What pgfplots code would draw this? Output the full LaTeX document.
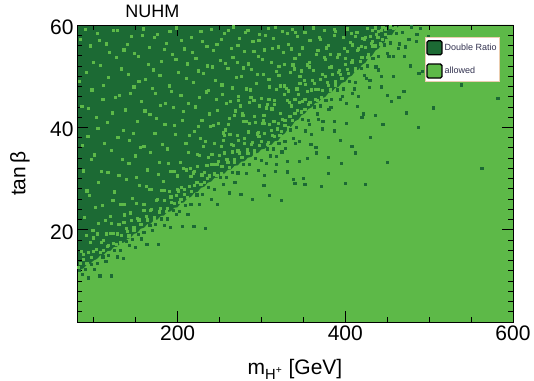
\documentclass[border=0pt]{standalone}
\usepackage{fontspec}
\setmainfont{Liberation Sans}
\usepackage{pgfplots}
\pgfplotsset{compat=1.18}
\usetikzlibrary{calc}
\definecolor{darkg}{RGB}{28,106,52}
\definecolor{lightg}{RGB}{93,185,72}
\definecolor{legtext}{RGB}{50,50,80}
\begin{document}
\begin{tikzpicture}
\begin{axis}[
  width=436pt, height=297pt, scale only axis,
  xmin=80, xmax=600, ymin=2, ymax=60,
  axis background/.style={fill=darkg},
  axis on top=true,
  axis line style={black, line width=0.6pt},
  xtick={200,400,600}, ytick={20,40,60},
  minor xtick={100,150,...,550},
  minor ytick={2,4,...,58},
  xtick pos=both, ytick pos=both,
  xticklabel pos=left, yticklabel pos=left,
  tick align=inside,
  major tick length=11pt, minor tick length=5pt,
  tick style={black, line width=0.8pt},
  /pgf/number format/assume math mode=true,
  ticklabel style={font=\fontsize{21}{24}\selectfont},
  yticklabel style={yshift=-2pt},
  title={NUHM},
  every axis title/.style={at={(rel axis cs:0.103,1)}, anchor=base west, yshift=7pt, font=\fontsize{18}{20}\selectfont},
  xlabel={m\textsubscript{H\textsuperscript{+}} [GeV]},
  every axis x label/.style={at={(rel axis cs:0.5,0)}, anchor=base, yshift=-53pt, font=\fontsize{21}{24}\selectfont},
  ylabel={tan\,β},
  every axis y label/.style={at={(rel axis cs:0,0.5)}, xshift=-57pt, rotate=90, anchor=center, font=\fontsize{21}{24}\selectfont},
  legend style={at={(rel axis cs:0.97,0.96)}, anchor=north east, fill=white,
    draw={rgb,255:red,235;green,205;blue,175}, line width=0.5pt,
    font=\fontsize{9}{10}\selectfont, text=legtext,
    inner xsep=1pt, inner ysep=3pt, row sep=8pt, cells={anchor=west}},
]
% allowed region (light) below the boundary
\addplot[forget plot, draw=none, fill=lightg] coordinates {
(80,2) (80,11.5) (84,12.2) (88,12.5) (92,13.2) (96,13.4) (100,14.0) (104,14.3) (108,15.0) (112,15.1) (116,15.8) (120,15.9) (124,16.6) (128,16.7) (132,17.4) (136,17.5) (140,18.2) (144,18.4) (148,19.2) (152,19.4) (156,20.2) (160,20.4) (164,21.1) (168,21.2) (172,21.9) (176,22.0) (180,22.7) (184,22.8) (188,23.5) (192,23.6) (196,24.3) (200,24.4) (204,25.2) (208,25.4) (212,26.2) (216,26.4) (220,27.2) (224,27.4) (228,28.2) (232,28.4) (236,29.2) (240,29.4) (244,30.1) (248,30.2) (252,30.9) (256,31.0) (260,31.7) (264,31.8) (268,32.5) (272,32.6) (276,33.3) (280,33.4) (284,34.1) (288,34.2) (292,34.9) (296,35.0) (300,35.7) (304,35.8) (308,36.5) (312,36.6) (316,37.3) (320,37.4) (324,38.4) (328,38.8) (332,39.8) (336,40.2) (340,41.2) (344,41.5) (348,42.4) (352,42.7) (356,43.6) (360,43.9) (364,44.7) (368,44.9) (372,45.7) (376,45.9) (380,46.7) (384,46.9) (388,47.7) (392,47.9) (396,48.7) (400,48.9) (404,49.8) (408,50.1) (412,51.0) (416,51.3) (420,52.2) (424,52.6) (428,53.6) (432,54.0) (436,55.0) (440,55.4) (444,56.4) (448,56.7) (452,57.7) (456,58.1) (460,59.2) (465,60) (600,60) (600,2)
} -- cycle;
% allowed points scattered in the dark region
\addplot[forget plot, only marks, mark=square*, mark size=1.1pt, mark options={fill=lightg, draw=lightg, line width=0pt}] coordinates {
(84,57.2) (86,44.1) (88,31.5) (89,22.4) (91,50.8) (93,38.2) (95,26.7) (96,55.9) (98,47.3) (99,19.8) (101,34.6) (103,41.9) (104,58.4) (106,29.3) (108,52.1) (110,24.8) (111,45.5) (113,36.9) (115,56.3) (117,31.2) (118,49.7) (120,22.6) (122,42.8) (124,58.9) (125,27.4) (127,53.6) (129,38.1) (131,46.2) (132,24.9) (134,33.7) (136,55.1) (138,43.4) (139,29.8) (141,50.3) (143,37.5) (145,57.7) (146,26.1) (148,47.9) (150,34.4) (152,41.2) (153,53.8) (155,28.6) (157,45.1) (159,59.2) (160,36.3) (162,49.4) (164,31.7) (166,55.6) (167,42.5) (169,27.9) (171,51.2) (173,38.8) (174,46.7) (176,58.1) (178,33.2) (180,44.3) (181,52.9) (183,29.5) (185,40.6) (187,56.4) (188,35.8) (190,48.1) (192,31.4) (194,54.2) (195,43.9) (197,38.6) (199,59.4) (201,50.7) (203,33.1) (204,46.2) (206,41.3) (208,55.3) (210,36.8) (212,52.4) (213,44.7) (215,31.9) (217,57.6) (219,48.8) (220,39.2) (222,53.5) (224,34.7) (226,45.9) (228,58.7) (229,41.4) (231,50.6) (233,37.3) (235,55.8) (237,47.2) (238,42.6) (240,59.1) (242,51.8) (244,36.9) (246,45.4) (247,56.2) (249,40.7) (251,53.1) (253,48.3) (255,38.9) (256,58.3) (258,44.6) (260,51.5) (262,41.8) (264,55.4) (265,47.7) (267,59.6) (269,43.2) (271,52.7) (273,46.1) (274,57.3) (276,49.9) (278,42.3)
(280,54.8) (282,47.5) (284,59.0) (286,44.9) (288,51.3) (290,56.7) (292,42.1) (294,48.6) (296,53.9) (298,58.2) (300,45.7) (302,50.4) (304,55.1) (306,43.8) (308,59.3) (310,47.9) (312,52.6) (314,57.4) (316,45.3) (318,50.9) (320,55.7) (323,48.1) (325,58.8) (327,52.3) (330,47.6) (332,56.2) (335,50.8) (337,59.1) (340,53.4) (343,57.8) (346,49.9) (349,55.5) (352,58.6) (355,52.2) (358,56.9) (362,59.4) (366,54.3) (370,57.1) (375,59.0) (380,56.0) (388,58.8)
(83,48.9) (87,36.4) (90,59.1) (92,27.6) (94,43.7) (97,33.8) (100,52.6) (102,24.3) (105,39.8) (107,56.9) (109,31.4) (112,48.2) (114,21.8) (116,41.0) (119,54.7) (121,35.5) (123,25.7) (126,45.8) (128,59.0) (130,30.6) (133,51.4) (135,39.4) (137,22.9) (140,56.2) (142,33.0) (144,46.6) (147,38.8) (149,54.4) (151,30.2) (154,49.0) (156,36.0) (158,58.0) (161,43.2) (163,28.4) (165,52.3) (168,35.1) (170,47.6) (172,57.5) (175,41.7) (177,30.8) (179,50.1) (182,36.7) (184,55.2) (186,44.6) (189,32.9) (191,58.7) (193,47.0) (196,40.3) (198,53.2) (200,30.5) (205,57.0) (207,43.1) (211,49.6) (214,38.4) (218,54.6) (221,44.0) (225,51.0) (227,37.9) (230,56.7) (234,46.9) (236,52.0) (239,40.2) (243,55.0) (245,49.1) (248,43.3) (252,57.1) (254,46.5) (257,52.5) (261,59.0) (263,45.1) (266,53.7) (270,49.8) (272,56.0) (275,44.2) (279,51.6) (281,58.5) (285,52.4) (287,47.3) (291,54.9) (295,50.3) (297,57.0) (301,53.2) (305,58.0) (309,49.4) (313,55.4) (317,59.5) (321,51.9) (326,54.6) (331,58.3) (336,55.3) (341,58.6) (345,54.2)
(82,12.7) (85,15.7) (88,14.2) (91,18.9) (94,15.5) (97,14.6) (100,18.4) (103,16.1) (106,21.3) (109,17.5) (112,15.9) (115,19.2) (118,17.0) (121,21.2) (124,19.3) (127,17.1) (130,21.0) (133,18.9) (136,24.9) (139,20.2) (142,18.8) (145,21.8) (148,20.4) (151,25.2) (154,21.9) (157,21.0) (160,24.9) (163,22.6) (166,27.8) (169,24.0) (172,22.4) (175,25.7) (178,23.5) (181,27.7) (184,25.8) (187,23.6) (190,27.5) (193,25.4) (196,31.4) (199,26.7) (202,25.3) (205,28.3) (208,26.9) (211,31.7) (214,28.4) (217,27.5) (220,31.4) (223,29.2) (226,34.5) (229,30.7) (232,29.2) (235,32.6) (238,30.5) (241,34.7) (244,32.8) (247,30.6) (250,34.5) (253,32.4) (256,38.4) (259,33.7) (262,32.2) (265,35.2) (268,33.7) (271,38.4) (274,35.0) (277,34.1) (280,37.9) (283,35.6) (286,40.8) (289,37.0) (292,35.4) (295,38.7) (298,36.5) (301,40.7) (304,38.8) (307,36.6) (310,40.5) (313,38.4) (316,44.4) (319,39.7) (322,38.4) (325,41.6) (328,40.3) (331,45.2) (334,42.1) (337,41.4) (340,45.4) (343,43.3) (346,48.6) (349,45.0) (352,43.5) (355,47.0) (358,44.9) (361,49.2) (364,47.4) (367,45.3) (370,49.3) (373,47.2) (376,53.3) (379,48.7) (382,47.3) (385,50.3) (388,48.9) (391,53.7) (394,50.4) (397,49.5) (400,53.4) (403,51.3) (406,56.6) (409,53.0) (412,51.5) (415,55.0) (418,52.9) (421,57.3) (424,55.6) (427,53.6) (430,57.8) (433,55.9) (436,59.4) (439,57.6) (442,56.3) (445,59.5) (448,58.2) (454,59.6) (457,59.3)
(84,13.4) (88,15.2) (92,13.5) (96,17.5) (100,15.7) (104,19.2) (108,15.6) (112,17.9) (116,16.7) (120,19.3) (124,17.4) (128,19.2) (132,17.5) (136,21.5) (140,19.7) (144,23.3) (148,19.8) (152,22.2) (156,21.1) (160,23.8) (164,21.9) (168,23.7) (172,22.0) (176,26.0) (180,24.2) (184,27.7) (188,24.1) (192,26.4) (196,25.2) (200,27.8) (204,26.0) (208,27.9) (212,26.3) (216,30.4) (220,28.7) (224,32.3) (228,28.8) (232,31.2) (236,30.1) (240,32.8) (244,30.9) (248,32.7) (252,31.0) (256,35.0) (260,33.2) (264,36.7) (268,33.1) (272,35.4) (276,34.2) (280,36.8) (284,34.9) (288,36.7) (292,35.0) (296,39.0) (300,37.2) (304,40.7) (308,37.1) (312,39.4) (316,38.2) (320,40.8) (324,39.2) (328,41.3) (332,39.9) (336,44.2) (340,42.7) (344,46.4) (348,43.0) (352,45.5) (356,44.5) (360,47.3) (364,45.5) (368,47.4) (372,45.8) (376,49.9) (380,48.2) (384,51.8) (388,48.3) (392,50.7) (396,49.6) (400,52.3) (404,50.6) (408,52.6) (412,51.1) (416,55.3) (420,53.7) (424,57.5) (428,54.2) (432,56.8) (436,55.9) (440,58.8) (444,57.2) (448,59.2) (452,57.8) (460,59.5)
(252.5,36.3) (257.5,39.5) (262.5,38.6) (267.5,42.4) (272.5,37.5) (277.5,42.6) (282.5,41.2) (287.5,45.9) (292.5,40.9) (297.5,44.2) (302.5,41.3) (307.5,44.5) (312.5,43.6) (317.5,47.4) (322.5,42.7) (327.5,48.1) (332.5,47.1) (337.5,52.2) (342.5,47.5) (347.5,51.0) (352.5,48.4) (357.5,51.8) (362.5,51.1) (367.5,55.0) (372.5,50.3) (377.5,55.5) (382.5,54.2) (387.5,59.1) (392.5,54.2) (397.5,57.6) (402.5,54.9) (407.5,58.3) (412.5,57.7) (422.5,57.1) (432.5,58.9)
(403,59.2) (409,56.1) (414,58.6) (419,55.8) (426,59.3) (431,56.4) (437,58.2) (443,59.0) (449,57.0)
(201,27.6) (207,31.9) (213,35.1) (219,31.1) (225,40.1) (231,36.2) (237,34.2) (243,40.4) (249,33.4) (255,37.5) (261,40.6) (267,36.4) (273,45.3) (279,41.2) (285,39.1) (291,45.2) (297,38.2) (303,42.3) (309,45.4) (315,41.2) (321,50.2) (327,46.5) (333,44.9) (339,51.4) (345,44.8) (351,49.2) (357,52.6) (363,48.6) (369,57.6) (375,53.7) (381,51.7) (387,58.0) (393,51.1) (399,55.4)
};
% Double Ratio points scattered in the allowed region
\addplot[forget plot, only marks, mark=square*, mark size=1.1pt, mark options={fill=darkg, draw=darkg, line width=0pt}] coordinates {
(83,12.1) (86.5,11.3) (90,12.3) (93.5,10.6) (97,13.2) (100.5,12.2) (104,13.4) (107.5,11.0) (111,14.7) (114.5,13.8) (118,15.0) (121.5,11.0) (125,16.0) (128.5,14.7) (132,16.0) (135.5,14.4) (139,17.7) (142.5,17.0) (146,18.1) (149.5,16.5) (153,19.1) (156.5,18.2) (160,19.5) (163.5,17.2) (167,20.8) (170.5,19.9) (174,21.1) (177.5,17.2) (181,22.1) (184.5,20.8) (188,22.1) (191.5,20.5) (195,23.8) (198.5,23.0)
(202,23.6) (205.5,20.7) (209,24.8) (212.5,23.0) (216,24.9) (219.5,20.7) (223,26.8) (226.5,25.0) (230,26.9) (233.5,20.2) (237,28.2) (240.5,26.0) (244,27.9) (247.5,25.0) (251,30.2) (254.5,28.8) (258,30.2) (261.5,27.2) (265,31.2) (268.5,29.3) (272,31.1) (275.5,26.9) (279,32.8) (282.5,31.0) (286,32.8) (289.5,26.0) (293,33.9) (296.5,31.6) (300,33.5) (303.5,30.6) (307,35.8) (310.5,34.4) (314,35.8) (317.5,32.8) (321,36.9) (324.5,35.2) (328,37.3) (331.5,33.3) (335,39.5) (338.5,37.9) (342,40.0) (345.5,33.3) (349,41.5) (352.5,39.3) (356,41.4) (359.5,38.6) (363,44.0) (366.5,42.6) (370,44.2) (373.5,41.2) (377,45.3) (380.5,43.5) (384,45.4) (387.5,41.2) (391,47.3) (394.5,45.5) (398,47.5) (401.5,40.7) (405,48.9) (408.5,46.7) (412,48.8) (415.5,46.0) (419,51.5) (422.5,50.2) (426,52.0) (429.5,49.2) (433,53.5) (436.5,51.8) (440,53.9) (443.5,49.9) (447,56.1) (450.5,54.5) (454,56.5) (457.5,50.0) (461,58.3) (464.5,56.3) (468,58.6) (471.5,55.7) (478.5,59.6) (485.5,58.1) (499.5,57.8)
(303,28.6) (310,26.7) (317,31.4) (324,25.8) (331,31.3) (338,29.8) (345,37.2) (352,28.8) (359,36.7) (366,35.0) (373,39.7) (380,34.1) (387,39.3) (394,37.4) (401,44.6) (408,36.2) (415,44.1) (422,42.6) (429,47.8) (436,42.4) (443,47.9) (450,46.3) (457,53.8) (464,45.8) (471,53.8) (478,52.0) (485,56.7) (492,50.9)
(306,33.0) (318,34.3) (329,35.9) (341,36.8) (357,40.5) (368,41.6) (383,43.9) (397,46.0) (411,47.5) (425,49.6) (440,51.2) (452,53.8) (463,55.4) (476,57.2) (490,59.3)
(505,43.8) (582,45.7) (539,48.3) (470,47.0) (520,55.0) (560,52.0) (488,50.5) (455,45.0) (430,38.0) (412,35.0) (395,33.0) (380,31.0) (365,36.0) (350,30.0) (420,42.0) (445,40.5) (372,28.5) (340,29.0) (400,29.0) (355,34.0) (424,28.8) (563,32.0) (450,33.2) (487,40.0) (473,42.8)
};
\addlegendimage{legend image code/.code={\draw[fill=darkg, draw=black, line width=1.3pt, rounded corners=1.5pt] (0pt,-7pt) rectangle (15pt,7pt);}}
\addlegendentry{Double Ratio\hspace{8pt}}
\addlegendimage{legend image code/.code={\draw[fill=lightg, draw=black, line width=1.3pt, rounded corners=1.5pt] (0pt,-7pt) rectangle (15pt,7pt);}}
\addlegendentry{allowed}
\end{axis}
\pgfresetboundingbox
\path ($(current axis.south west)+(-77pt,-59pt)$) rectangle ($(current axis.north east)+(21pt,25pt)$);
\end{tikzpicture}
\end{document}
